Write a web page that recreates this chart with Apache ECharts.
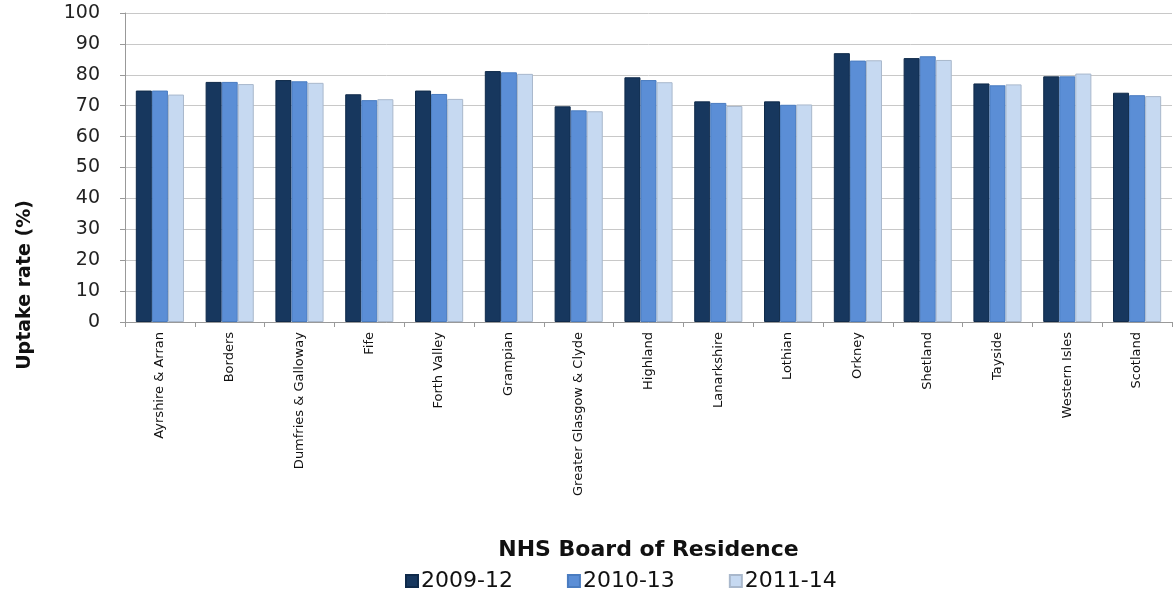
<!DOCTYPE html>
<html><head><meta charset="utf-8">
<script src="https://cdn.jsdelivr.net/npm/echarts@6/dist/echarts.min.js"></script>
<style>html,body{margin:0;padding:0;background:#fff}#c{width:1176px;height:593px}</style>
</head><body><div id="c"></div>
<script>
const categories = ["Ayrshire & Arran","Borders","Dumfries & Galloway","Fife","Forth Valley","Grampian","Greater Glasgow & Clyde","Highland","Lanarkshire","Lothian","Orkney","Shetland","Tayside","Western Isles","Scotland"];
const s2009_12 = [74.9,77.7,78.3,73.7,74.9,81.2,69.8,79.2,71.4,71.4,87.0,85.4,77.2,79.5,74.2];
const s2010_13 = [74.9,77.7,77.9,71.8,73.8,80.8,68.5,78.3,70.9,70.3,84.6,86.0,76.6,79.5,73.4];
const s2011_14 = [73.6,77.0,77.4,72.1,72.2,80.3,68.2,77.6,69.9,70.4,84.7,84.8,76.9,80.4,73.1];
const seriesNames = ["2009-12","2010-13","2011-14"];
const yTicks = [0,10,20,30,40,50,60,70,80,90,100];

const font = "'DejaVu Sans', Verdana, sans-serif";
const chart = echarts.init(document.getElementById('c'));
const colors = ['#17375E','#5B8ED6','#C6D9F1'];
const borders = ['#0F2A4A','#4A7CC0','#A9B8CC'];
chart.setOption({
  animation:false,
  textStyle:{fontFamily:font},
  grid:{left:125,right:4,top:13,bottom:271,containLabel:false},
  legend:{
    bottom:1,left:405,padding:0,itemGap:54,itemWidth:12,itemHeight:12,icon:'rect',
    textStyle:{fontSize:22,color:'#111',fontFamily:font,padding:[0,0,0,-2]},
    data:seriesNames
  },
  graphic:[{type:'text',rotation:Math.PI/2,x:25,y:285,
    style:{text:'Uptake rate (%)',font:"bold 19px "+font,fill:'#111',textAlign:'center',textVerticalAlign:'middle'}}],
  xAxis:{
    type:'category',data:categories,
    name:'NHS Board of Residence',nameLocation:'middle',nameGap:217,
    nameTextStyle:{fontSize:22,fontWeight:'bold',color:'#111',fontFamily:font},
    axisLine:{lineStyle:{color:'#999'}},
    axisTick:{show:true,length:5,lineStyle:{color:'#999'}},
    axisLabel:{rotate:90,fontSize:13,color:'#111',margin:10,interval:0,fontFamily:font}
  },
  yAxis:{
    type:'value',min:0,max:100,interval:10,
    axisLine:{show:true,lineStyle:{color:'#999'}},
    axisTick:{show:true,length:5,lineStyle:{color:'#999'}},
    splitLine:{lineStyle:{color:'#c8c8c8'}},
    axisLabel:{fontSize:19,color:'#222',margin:25,fontFamily:font,
      formatter:v=>yTicks.includes(v)?String(v):''}
  },
  series:[s2009_12,s2010_13,s2011_14].map((d,i)=>({
    name:seriesNames[i],type:'bar',data:d,barGap:'0%',barCategoryGap:'31%',
    itemStyle:{color:colors[i],borderColor:borders[i],borderWidth:1}
  }))
});
</script></body></html>
